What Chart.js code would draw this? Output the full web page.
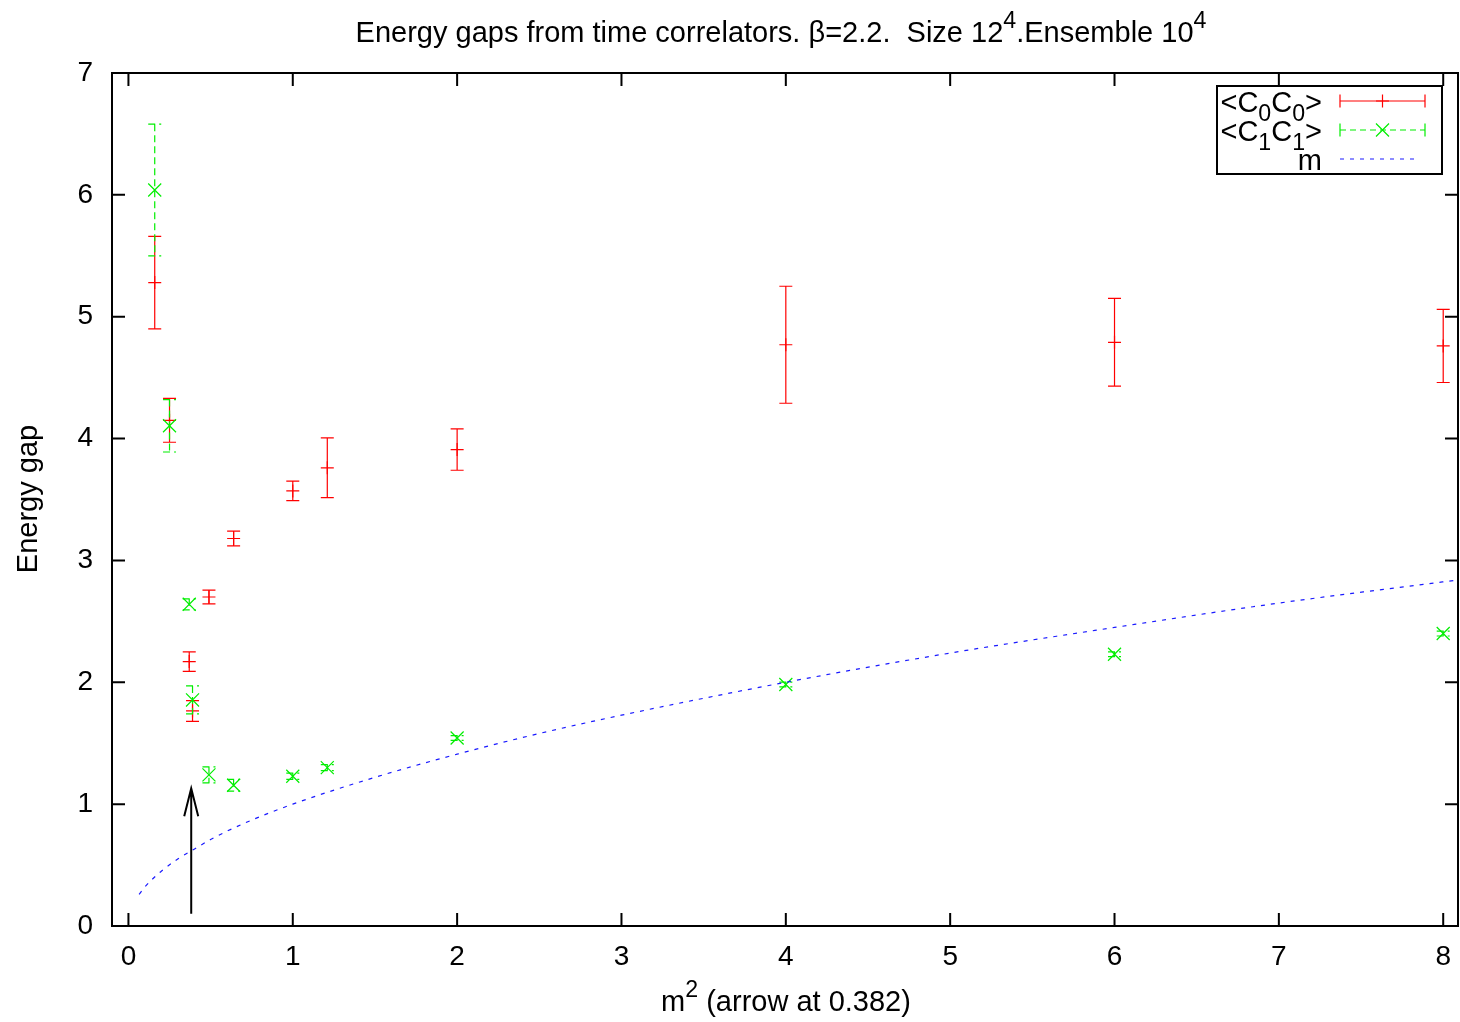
<!DOCTYPE html>
<html><head><meta charset="utf-8">
<script src="https://cdn.jsdelivr.net/npm/chart.js@4.4.1/dist/chart.umd.min.js"></script>
<style>html,body{margin:0;padding:0;background:#fff;}canvas{display:block}</style>
</head><body>
<canvas id="c" width="1460" height="1022"></canvas>
<script>
// ---- data ----
const xTicks = [0, 1, 2, 3, 4, 5, 6, 7, 8];
const yTicks = [0, 1, 2, 3, 4, 5, 6, 7];
const m2     = [0.16, 0.25, 0.37, 0.39, 0.49, 0.64, 1.0, 1.21, 2, 4, 6, 8];
const c0     = [5.28, 4.15, 2.17, 1.765, 2.70, 3.18, 3.57, 3.76, 3.91, 4.77, 4.79, 4.76];
const c0Err  = [0.38, 0.18, 0.08, 0.085, 0.056, 0.06, 0.08, 0.245, 0.17, 0.48, 0.36, 0.30];
const c1     = [6.04, 4.105, 2.64, 1.855, 1.24, 1.155, 1.229, 1.30, 1.543, 1.982, 2.23, 2.40];
const c1Err  = [0.54, 0.215, 0.045, 0.115, 0.066, 0.048, 0.025, 0.025, 0.02, 0.02, 0.02, 0.02];
const mX     = [0.065, 0.1, 0.15, 0.2, 0.3, 0.4, 0.5, 0.7, 1.0, 1.5, 2.0, 2.5, 3.0, 4.0, 5.0, 6.0, 7.0, 8.09];
const mY     = [0.26, 0.32, 0.39, 0.45, 0.55, 0.63, 0.71, 0.84, 1.0, 1.22, 1.41, 1.58, 1.73, 2.0, 2.24, 2.45, 2.65, 2.84];
const arrowX = 0.382, arrowFrom = 0.1, arrowTo = 1.13;

const FONT = '"Liberation Sans", Arial, Helvetica, sans-serif';
const FS = 29;
const TFS = 28;
const fnt = s => s + 'px ' + FONT;

function richWidth(ctx, segs, size) {
  let w = 0;
  for (const s of segs) { ctx.font = fnt((s.sub || s.sup) ? size * 0.8 : size); w += ctx.measureText(s.t).width; }
  return w;
}
function drawRich(ctx, segs, x, y, size, align) {
  const w = richWidth(ctx, segs, size);
  let cx = align === 'center' ? x - w / 2 : align === 'right' ? x - w : x;
  ctx.textAlign = 'left'; ctx.textBaseline = 'alphabetic'; ctx.fillStyle = '#000';
  for (const s of segs) {
    const sz = (s.sub || s.sup) ? size * 0.8 : size;
    ctx.font = fnt(sz);
    const dy = s.sub ? size * 0.32 : s.sup ? -size * 0.48 : 0;
    ctx.fillText(s.t, cx, y + dy);
    cx += ctx.measureText(s.t).width;
  }
}

const titleSegs = [{t: 'Energy gaps from time correlators. \u03b2=2.2.  Size 12'}, {t: '4', sup: true}, {t: '.Ensemble 10'}, {t: '4', sup: true}];
const xTitleSegs = [{t: 'm'}, {t: '2', sup: true}, {t: ' (arrow at 0.382)'}];
const yTitle = 'Energy gap';
const legendSegs = [
  [{t: '<C'}, {t: '0', sub: true}, {t: 'C'}, {t: '0', sub: true}, {t: '>'}],
  [{t: '<C'}, {t: '1', sub: true}, {t: 'C'}, {t: '1', sub: true}, {t: '>'}],
  [{t: 'm'}]
];

function drawMarker(ctx, style, x, y, r) {
  ctx.beginPath();
  if (style === 'cross') {
    ctx.moveTo(x - r, y); ctx.lineTo(x + r, y); ctx.moveTo(x, y - r); ctx.lineTo(x, y + r);
  } else {
    ctx.moveTo(x - r, y - r); ctx.lineTo(x + r, y + r); ctx.moveTo(x - r, y + r); ctx.lineTo(x + r, y - r);
  }
  ctx.stroke();
}

const gp = {
  id: 'gp',
  beforeDatasetDraw(chart, args) {
    const ds = chart.data.datasets[args.index];
    if (!ds.errors) return;
    const ctx = chart.ctx, xs = chart.scales.x, ys = chart.scales.y, a = chart.chartArea;
    ctx.save();
    ctx.beginPath(); ctx.rect(a.left, a.top, a.right - a.left, a.bottom - a.top); ctx.clip();
    ctx.strokeStyle = ds.borderColor; ctx.lineWidth = 1.2;
    ctx.setLineDash(ds.errDash || []);
    ds.data.forEach((p, i) => {
      const e = ds.errors[i];
      const px = xs.getPixelForValue(p.x);
      const y1 = ys.getPixelForValue(p.y + e), y2 = ys.getPixelForValue(p.y - e);
      ctx.beginPath();
      ctx.moveTo(px, y1); ctx.lineTo(px, y2);
      ctx.moveTo(px - 6.5, y1); ctx.lineTo(px + 6.5, y1);
      ctx.moveTo(px - 6.5, y2); ctx.lineTo(px + 6.5, y2);
      ctx.stroke();
    });
    ctx.restore();
  },
  afterDatasetsDraw(chart) {
    const ctx = chart.ctx, xs = chart.scales.x, ys = chart.scales.y, a = chart.chartArea;
    ctx.save();
    // arrow
    const ax = xs.getPixelForValue(arrowX), ay0 = ys.getPixelForValue(arrowFrom), ay1 = ys.getPixelForValue(arrowTo);
    ctx.strokeStyle = '#000'; ctx.lineWidth = 2; ctx.setLineDash([]);
    ctx.beginPath(); ctx.moveTo(ax, ay0); ctx.lineTo(ax, ay1);
    ctx.moveTo(ax - 7, ay1 + 28); ctx.lineTo(ax, ay1); ctx.lineTo(ax + 7, ay1 + 28);
    ctx.stroke();
    // frame
    ctx.lineWidth = 2;
    ctx.strokeRect(a.left, a.top, a.right - a.left, a.bottom - a.top);
    // inside ticks, mirrored
    ctx.beginPath();
    xTicks.forEach(v => {
      const px = xs.getPixelForValue(v);
      ctx.moveTo(px, a.bottom); ctx.lineTo(px, a.bottom - 13);
      ctx.moveTo(px, a.top); ctx.lineTo(px, a.top + 13);
    });
    yTicks.forEach(v => {
      const py = ys.getPixelForValue(v);
      ctx.moveTo(a.left, py); ctx.lineTo(a.left + 13, py);
      ctx.moveTo(a.right, py); ctx.lineTo(a.right - 13, py);
    });
    ctx.stroke();
    // legend
    ctx.fillStyle = '#fff';
    ctx.fillRect(1217, 86, 225, 88);
    ctx.strokeStyle = '#000'; ctx.lineWidth = 2;
    ctx.strokeRect(1217, 86, 225, 88);
    const rows = [101, 130, 159];
    const bases = [112, 141, 170];
    chart.data.datasets.forEach((ds, i) => {
      drawRich(ctx, legendSegs[i], 1322, bases[i], FS, 'right');
      const y = rows[i];
      ctx.strokeStyle = ds.borderColor; ctx.lineWidth = 1.2;
      ctx.setLineDash(ds.legendDash || []);
      ctx.beginPath();
      if (ds.errors) {
        ctx.moveTo(1340, y); ctx.lineTo(1425, y); ctx.stroke();
        ctx.setLineDash([]);
        ctx.beginPath();
        ctx.moveTo(1340, y - 6.5); ctx.lineTo(1340, y + 6.5);
        ctx.moveTo(1425, y - 6.5); ctx.lineTo(1425, y + 6.5);
        ctx.stroke();
        drawMarker(ctx, ds.pointStyle, 1382.5, y, 6.5);
      } else {
        ctx.moveTo(1340, y); ctx.lineTo(1420, y); ctx.stroke();
      }
    });
    ctx.restore();
  },
  afterDraw(chart) {
    const ctx = chart.ctx;
    ctx.save();
    drawRich(ctx, titleSegs, 781, 42, FS, 'center');
    drawRich(ctx, xTitleSegs, 786, 1011, FS, 'center');
    ctx.translate(37, 499); ctx.rotate(-Math.PI / 2);
    ctx.font = fnt(FS); ctx.fillStyle = '#000'; ctx.textAlign = 'center'; ctx.textBaseline = 'alphabetic';
    ctx.fillText(yTitle, 0, 0);
    ctx.restore();
  }
};

new Chart(document.getElementById('c'), {
  type: 'scatter',
  data: {
    datasets: [
      { label: '<C0C0>', data: m2.map((x, i) => ({x, y: c0[i]})), errors: c0Err,
        borderColor: '#ff0000', backgroundColor: '#ff0000', pointStyle: 'cross', pointRadius: 6.5, pointBorderWidth: 1.2,
        showLine: false, order: 2, errDash: [], legendDash: [] },
      { label: '<C1C1>', data: m2.map((x, i) => ({x, y: c1[i]})), errors: c1Err,
        borderColor: '#00ee00', backgroundColor: '#00ee00', pointStyle: 'crossRot', pointRadius: 9.2, pointBorderWidth: 1.2,
        showLine: false, order: 1, errDash: [7, 4], legendDash: [6, 4] },
      { label: 'm', data: mX.map((x, i) => ({x, y: mY[i]})),
        borderColor: '#1a1aff', borderWidth: 1.2, borderDash: [4, 6], pointRadius: 0, showLine: true,
        cubicInterpolationMode: 'monotone', order: 0, legendDash: [4, 6] }
    ]
  },
  options: {
    responsive: false, animation: false, devicePixelRatio: 1, events: [],
    layout: { autoPadding: false, padding: { top: 73, right: 2, left: 0, bottom: 0 } },
    plugins: { legend: { display: false }, tooltip: { enabled: false }, title: { display: false } },
    scales: {
      x: {
        type: 'linear', min: -0.1, max: 8.09,
        afterBuildTicks: s => { s.ticks = xTicks.map(v => ({value: v})); },
        afterFit: s => { s.height = 96; s.paddingLeft = 0; s.paddingRight = 0; },
        grid: { display: false, drawTicks: false }, border: { display: false },
        ticks: { font: { family: FONT, size: TFS, lineHeight: 2.2 }, color: '#000', padding: 0, maxRotation: 0, autoSkip: false, callback: v => String(v) }
      },
      y: {
        type: 'linear', min: 0, max: 7,
        afterBuildTicks: s => { s.ticks = yTicks.map(v => ({value: v})); },
        afterFit: s => { s.width = 112; s.paddingTop = 0; s.paddingBottom = 0; },
        grid: { display: false, drawTicks: false }, border: { display: false },
        ticks: { font: { family: FONT, size: TFS }, color: '#000', padding: 19, autoSkip: false, callback: v => String(v) }
      }
    }
  },
  plugins: [gp]
});
</script>
</body></html>
